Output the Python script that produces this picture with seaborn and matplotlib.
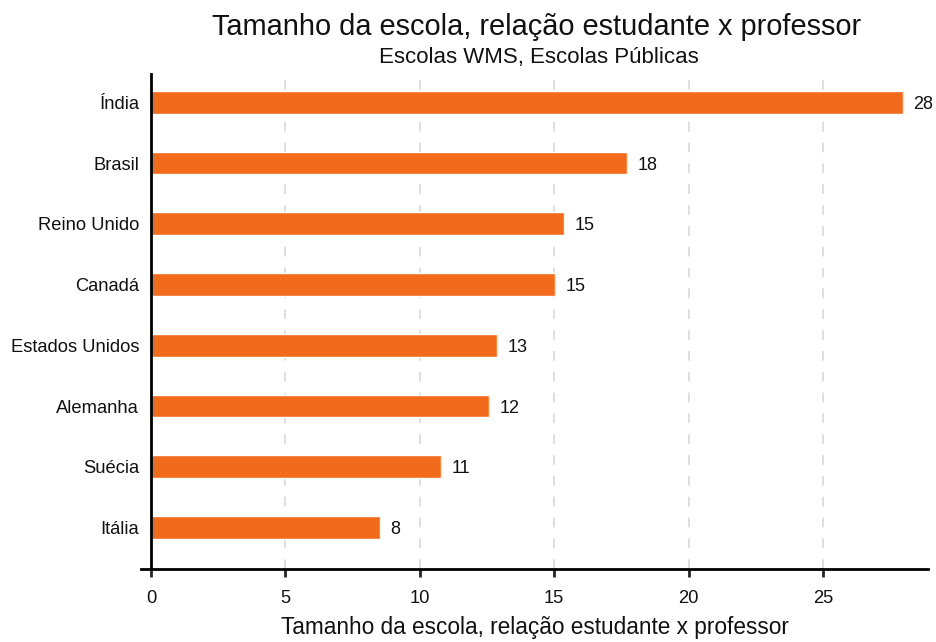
import matplotlib
matplotlib.use("Agg")
import matplotlib.pyplot as plt
import seaborn as sns
import pandas as pd

# values
paises = ["Índia", "Brasil", "Reino Unido", "Canadá", "Estados Unidos",
          "Alemanha", "Suécia", "Itália"]
razao = [27.98, 17.7, 15.36, 15.03, 12.87, 12.57, 10.79, 8.52]
rotulos = ["28", "18", "15", "15", "13", "12", "11", "8"]

titulo = "Tamanho da escola, relação estudante x professor"
subtitulo = "Escolas WMS, Escolas Públicas"

sns.set_style("white")
plt.rcParams['font.family'] = ['Liberation Sans', 'DejaVu Sans']
plt.rcParams['lines.scale_dashes'] = False

df = pd.DataFrame({"pais": paises, "razao": razao})

fig, ax = plt.subplots(figsize=(9.37, 6.42), dpi=100)
fig.subplots_adjust(left=141/937, right=928/937, top=1 - 74/642, bottom=1 - 569/642)

sns.barplot(data=df, x="razao", y="pais", orient="h", color="#f26a1b",
            width=0.374, saturation=1, ax=ax)

lbls = ax.bar_label(ax.containers[0], labels=rotulos, padding=7.5, fontsize=13,
                    color="#111111")
for t in lbls:
    t.set_va("center_baseline")

ax.set_xlim(-0.372, 28.906)
ax.set_ylim(7.683, -0.466)
ax.set_xticks([0, 5, 10, 15, 20, 25])

# dashed light grey vertical grid
ax.set_axisbelow(True)
ax.xaxis.grid(True, color="#dcdcdc", linewidth=1.3, linestyle=(0, (7, 8)))
ax.yaxis.grid(False)

for s in ["top", "right"]:
    ax.spines[s].set_visible(False)
ax.spines["left"].set_position(("data", 0))
ax.spines["left"].set_linewidth(2)
ax.spines["bottom"].set_linewidth(2)
ax.spines["left"].set_color("black")
ax.spines["bottom"].set_color("black")

ax.tick_params(axis="y", length=0, pad=8.5, labelsize=13.2, labelcolor="#111111")
ax.tick_params(axis="x", length=6, width=2, pad=9, labelsize=13.2,
               direction="out", bottom=True, labelcolor="#111111")

ax.set_ylabel("")
ax.set_xlabel(titulo, fontsize=16.3, labelpad=6.5, color="#111111")

fig.text(0.5725, 1 - 27/642, titulo, ha="center", va="center", fontsize=20.9,
         color="#111111")
fig.text(0.5755, 1 - 57/642, subtitulo, ha="center", va="center", fontsize=16,
         color="#111111")

plt.savefig("out.png", dpi=100)
plt.close()
